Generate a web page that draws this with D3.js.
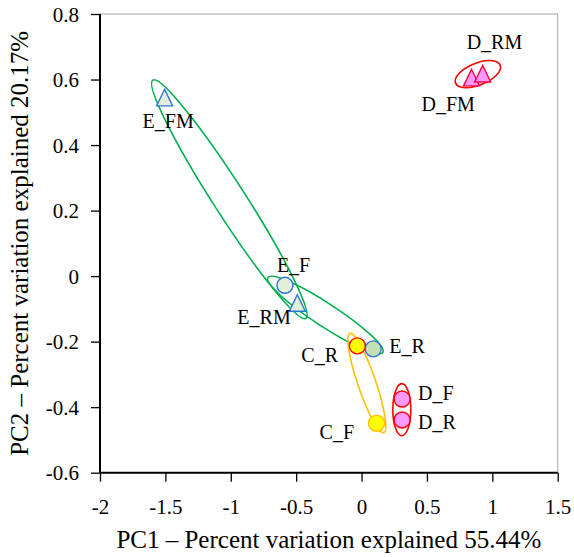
<!DOCTYPE html>
<html>
<head>
<meta charset="utf-8">
<script src="https://cdn.jsdelivr.net/npm/d3@7"></script>
<style>
  body { margin: 0; background: #fff; }
  svg text { font-family: "Liberation Serif", "Times New Roman", serif !important; fill: #000; }
</style>
</head>
<body>
<svg id="chart" width="574" height="557"></svg>
<script>
// sample scores (PC1, PC2)
var names  = ["E_FM", "E_F", "E_RM", "E_R", "C_R", "C_F", "D_F", "D_R", "D_FM", "D_RM"];
var pc1    = [-1.506, -0.586, -0.491, 0.089, -0.032, 0.115, 0.310, 0.310, 0.841, 0.926];
var pc2    = [0.545, -0.028, -0.082, -0.222, -0.213, -0.449, -0.375, -0.439, 0.606, 0.618];
var shapes = ["triangle", "circle", "triangle", "circle", "circle", "circle", "circle", "circle", "triangle", "triangle"];

// grouping ellipses, each given by its two tips in PC units
var ellipseNames = ["E1", "E2", "C", "D1", "D2"];
var ellipseX1 = [-1.596, -0.716, -0.089, 0.308, 0.719];
var ellipseY1 = [0.598, -0.004, -0.175, -0.328, 0.589];
var ellipseX2 = [-0.426, 0.163, 0.170, 0.308, 1.060];
var ellipseY2 = [-0.129, -0.233, -0.478, -0.487, 0.644];

var xTicks = [-2, -1.5, -1, -0.5, 0, 0.5, 1, 1.5];
var yTicks = [-0.6, -0.4, -0.2, 0, 0.2, 0.4, 0.6, 0.8];

// styles
var fills = {
  E_FM: "#e2f0d9", E_F: "#e2f0d9", E_RM: "#e2f0d9", E_R: "#c5e0b4",
  C_R: "#ffff00", C_F: "#ffff00",
  D_F: "#ff99ff", D_R: "#ff99ff", D_FM: "#ff99ff", D_RM: "#ff99ff"
};
var strokes = {
  E_FM: "#2e75d6", E_F: "#2e75d6", E_RM: "#2e75d6", E_R: "#2e75d6",
  C_R: "#ff0000", C_F: "#ffc000",
  D_F: "#ff0000", D_R: "#ff0000", D_FM: "#ff0040", D_RM: "#ff0040"
};
// label offsets from the marker centre (px), text start / baseline
var labelOffset = {
  E_FM: [-22, 30], E_F: [-8, -13], E_RM: [-60, 21], E_R: [16, 4],
  C_R: [-56, 16], C_F: [-57, 16], D_F: [16, 1], D_R: [16, 9],
  D_FM: [-50, 33], D_RM: [-16, -25]
};
var ellipseColor = ["#00b050", "#00b050", "#ffc000", "#ff0000", "#ff0000"];
var ellipseHalfWidth = [16, 11.5, 9, 9, 11];
var serif = "'Liberation Serif', 'Times New Roman', serif";

var svg = d3.select("#chart");
var mLeft = 100, mRight = 557.7, mTop = 14, mBottom = 472.7;

var x = d3.scaleLinear().domain([-2, 1.5]).range([mLeft, mRight]);
var y = d3.scaleLinear().domain([-0.6, 0.8]).range([mBottom, mTop]);

// plot area border (light grey on top/right)
svg.append("rect")
  .attr("x", mLeft).attr("y", mTop)
  .attr("width", mRight - mLeft).attr("height", mBottom - mTop)
  .attr("fill", "none")
  .attr("stroke", "#a6a6a6")
  .attr("stroke-width", 1);

// ellipses
ellipseNames.forEach(function(n, i) {
  var ax = x(ellipseX1[i]), ay = y(ellipseY1[i]);
  var bx = x(ellipseX2[i]), by = y(ellipseY2[i]);
  var cx = (ax + bx) / 2, cy = (ay + by) / 2;
  var rx = Math.hypot(bx - ax, by - ay) / 2;
  var ang = Math.atan2(by - ay, bx - ax) * 180 / Math.PI;
  svg.append("ellipse")
    .attr("cx", 0).attr("cy", 0)
    .attr("rx", rx).attr("ry", ellipseHalfWidth[i])
    .attr("transform", "translate(" + cx + "," + cy + ") rotate(" + ang + ")")
    .attr("fill", "none")
    .attr("stroke", ellipseColor[i])
    .attr("stroke-width", 1.6);
});

// axes
var xAxis = d3.axisBottom(x).tickValues(xTicks).tickSize(9).tickPadding(6)
  .tickFormat(function(d) { return String(d); });
var yAxis = d3.axisLeft(y).tickValues(yTicks).tickSize(9).tickPadding(12)
  .tickFormat(function(d) { return String(d); });

var gx = svg.append("g").attr("transform", "translate(0," + mBottom + ")").call(xAxis);
var gy = svg.append("g").attr("transform", "translate(" + mLeft + ",0)").call(yAxis);

[gx, gy].forEach(function(g) {
  g.attr("font-family", null).attr("font-size", null);
  g.select(".domain").attr("stroke", "#000").attr("stroke-width", 2);
  g.selectAll(".tick line").attr("stroke", "#000").attr("stroke-width", 1.3);
  g.selectAll(".tick text")
    .style("font-family", serif)
    .style("font-size", "21px")
    .attr("fill", "#000");
});
gx.select(".domain").attr("d", "M" + mLeft + ",0H" + mRight);
gy.select(".domain").attr("d", "M0," + mBottom + "V" + mTop);
gx.selectAll(".tick text").attr("dy", "0.71em").attr("y", 26);
gy.selectAll(".tick text").attr("dy", "0.34em");

// markers
var data = names.map(function(n, i) {
  return { name: n, x: pc1[i], y: pc2[i], shape: shapes[i] };
});

var tri = "M0,-8.3L8,8.3L-8,8.3Z";

svg.append("g").selectAll("path")
  .data(data)
  .enter().append("path")
  .attr("d", function(d) {
    return d.shape === "triangle" ? tri : d3.symbol(d3.symbolCircle, Math.PI * 64)();
  })
  .attr("transform", function(d) { return "translate(" + x(d.x) + "," + y(d.y) + ")"; })
  .attr("fill", function(d) { return fills[d.name]; })
  .attr("stroke", function(d) { return strokes[d.name]; })
  .attr("stroke-width", 1.4);

// labels
svg.append("g").selectAll("text")
  .data(data)
  .enter().append("text")
  .attr("x", function(d) { return x(d.x) + labelOffset[d.name][0]; })
  .attr("y", function(d) { return y(d.y) + labelOffset[d.name][1]; })
  .style("font-family", serif)
  .style("font-size", "20px")
  .text(function(d) { return d.name; });

// axis titles
svg.append("text")
  .attr("x", (mLeft + mRight) / 2)
  .attr("y", 548)
  .attr("text-anchor", "middle")
  .style("font-family", serif)
  .style("font-size", "25px")
  .text("PC1 – Percent variation explained 55.44%");

svg.append("text")
  .attr("transform", "translate(28," + (mTop + mBottom) / 2 + ") rotate(-90)")
  .attr("text-anchor", "middle")
  .style("font-family", serif)
  .style("font-size", "25px")
  .text("PC2 – Percent variation explained 20.17%");
</script>
</body>
</html>
